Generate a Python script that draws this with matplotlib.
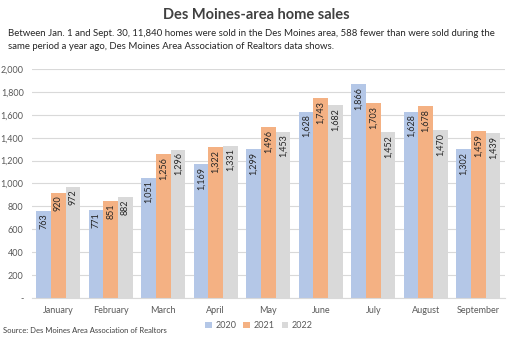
import matplotlib.pyplot as plt
import numpy as np

plt.rcParams['font.family'] = ['Lato', 'DejaVu Sans']

months = ["January", "February", "March", "April", "May", "June", "July", "August", "September"]
years = ["2020", "2021", "2022"]
sales_2020 = [763, 771, 1051, 1169, 1299, 1628, 1866, 1628, 1302]
sales_2021 = [920, 851, 1256, 1322, 1496, 1743, 1703, 1678, 1459]
sales_2022 = [972, 882, 1296, 1331, 1453, 1682, 1452, 1470, 1439]
colors = ["#B4C7E7", "#F4B183", "#D9D9D9"]

fig = plt.figure(figsize=(5.12, 3.42), dpi=100)
ax = fig.add_axes([0.0625, 0.129, 0.923, 0.669])

x = np.arange(len(months))
w = 0.28
for i, (vals, c, yr) in enumerate(zip([sales_2020, sales_2021, sales_2022], colors, years)):
    bars = ax.bar(x + (i - 1) * w, vals, w, color=c, label=yr, zorder=2)
    for b, v in zip(bars, vals):
        ax.text(b.get_x() + b.get_width() / 2, v - 25, f"{v:,}", rotation=90,
                ha="center", va="top", fontsize=6.5, color="#262626")

ax.set_xlim(-0.5, 8.5)
ax.set_ylim(0, 2000)
ax.set_yticks(range(0, 2001, 200))
ax.set_yticklabels(["-"] + [f"{v:,}" for v in range(200, 2001, 200)])
ax.set_xticks(x)
ax.set_xticklabels(months)
ax.tick_params(length=0, labelsize=6.5, colors="#595959", pad=6)
ax.grid(axis="y", color="#D9D9D9", linewidth=0.8, zorder=0)
for s in ["top", "right", "left"]:
    ax.spines[s].set_visible(False)
ax.spines["bottom"].set_color("#D9D9D9")

ax.legend(loc="upper center", bbox_to_anchor=(0.48, -0.065), ncol=3, frameon=False,
          fontsize=6.5, handlelength=0.7, handleheight=0.7, columnspacing=0.8,
          handletextpad=0.4, labelcolor="#595959")

fig.text(0.5, 0.955, "Des Moines-area home sales", ha="center", va="center",
         fontsize=10.5, fontweight="bold", color="#404040")
fig.text(0.016, 0.883, "Between Jan. 1 and Sept. 30, 11,840 homes were sold in the Des Moines area, 588 fewer than were sold during the\n"
         "same period a year ago, Des Moines Area Association of Realtors data shows.",
         ha="left", va="center", fontsize=6.9, color="#262626", linespacing=1.55)
fig.text(0.005, 0.035, "Source: Des Moines Area Association of Realtors", ha="left", va="center",
         fontsize=5.5, color="#404040")

fig.savefig("out.png", dpi=100)
